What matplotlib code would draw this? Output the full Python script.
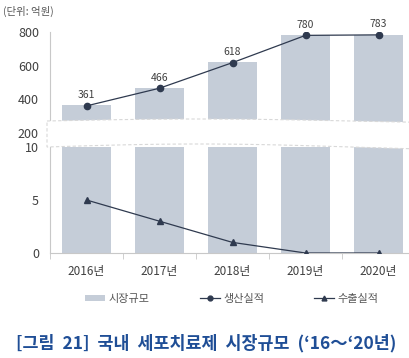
import numpy as np
import matplotlib.pyplot as plt
from matplotlib.patches import Polygon, Patch
from matplotlib.lines import Line2D

plt.rcParams['font.family'] = ['Noto Sans CJK KR', 'DejaVu Sans']

# data
years = ['2016년', '2017년', '2018년', '2019년', '2020년']
market = [364, 468, 619, 782, 785]
production = [361, 466, 618, 780, 783]
export = [5, 3, 1, 0, 0]

bar_color = '#c5cdd8'
line_color = '#2f3a4f'
spine_color = '#c8c8c8'
text_color = '#404040'

W, H = 409, 358
fig = plt.figure(figsize=(W / 100, H / 100), dpi=100)

left = 50 / W
width = 365 / W
ax_top = fig.add_axes([left, 1 - 133 / H, width, (133 - 32) / H])
ax_bot = fig.add_axes([left, 1 - 253 / H, width, (253 - 147) / H])

x = np.arange(len(years))
for ax in (ax_top, ax_bot):
    ax.bar(x, market, width=0.67, color=bar_color, zorder=1)
    ax.set_xlim(-0.5, 4.5)
    for s in ['top', 'right']:
        ax.spines[s].set_visible(False)
    ax.spines['left'].set_color(spine_color)
    ax.spines['bottom'].set_color(spine_color)
    ax.tick_params(axis='y', length=0, pad=8, labelsize=9, labelcolor=text_color)

# top part (production)
ax_top.plot(x, production, color=line_color, lw=0.9, marker='o', ms=4.5, zorder=3)
for xi, v in zip(x, production):
    ax_top.annotate(str(v), (xi, v), xytext=(0, 4), textcoords='offset points',
                    ha='center', va='bottom', fontsize=7.5, color=text_color)
ax_top.set_ylim(200, 800)
ax_top.set_yticks([200, 400, 600, 800])
ax_top.spines['bottom'].set_visible(False)
ax_top.set_xticks([])

# bottom part (export)
ax_bot.plot(x, export, color=line_color, lw=0.9, marker='^', ms=4, zorder=3)
ax_bot.set_ylim(0, 10)
ax_bot.set_yticks([0, 5, 10])
ax_bot.set_xticks(x)
ax_bot.set_xticklabels(years)
ax_bot.set_xticks(np.arange(-0.5, 5, 1), minor=True)
ax_bot.tick_params(axis='x', which='major', length=0, pad=9, labelsize=8.5, labelcolor=text_color)
ax_bot.tick_params(axis='x', which='minor', length=4, color=spine_color, direction='out')

# break band
xs = np.linspace(47, 412, 60)
wave = 2.0 * np.sin((xs - 47) / 365 * np.pi * 1.2)
top_edge = 121 - wave
bot_edge = 147 - 1.5 * wave
pts = np.vstack([np.column_stack([xs, top_edge]), np.column_stack([xs[::-1], bot_edge[::-1]])])
pts[:, 0] /= W
pts[:, 1] = 1 - pts[:, 1] / H
band = Polygon(pts, closed=True, transform=fig.transFigure, facecolor='white',
               edgecolor='#d8d8d8', lw=0.8, ls=(0, (3, 2)), zorder=10)
fig.patches.append(band)

# unit label
fig.text(3 / W, 1 - 11 / H, '(단위: 억원)', fontsize=7.5, color='#555555', va='center', ha='left')

# legend
handles = [
    Patch(facecolor=bar_color, edgecolor='none'),
    Line2D([], [], color=line_color, lw=0.9, marker='o', ms=3.5),
    Line2D([], [], color=line_color, lw=0.9, marker='^', ms=3.5),
]
fig.legend(handles, ['시장규모', '생산실적', '수출실적'], loc='center',
           bbox_to_anchor=(232 / W, 1 - 299 / H), ncol=3, frameon=False,
           fontsize=8, labelcolor='#555555', columnspacing=4.5,
           handlelength=1.8, handletextpad=0.3, handleheight=0.5)

# caption
fig.text(206 / W, 1 - 343 / H, "[그림  21]  국내  세포치료제  시장규모  (‘16～‘20년)",
         fontsize=12.5, fontweight='bold', color='#1f4e96', ha='center', va='center')

fig.savefig('out.png', dpi=100)
